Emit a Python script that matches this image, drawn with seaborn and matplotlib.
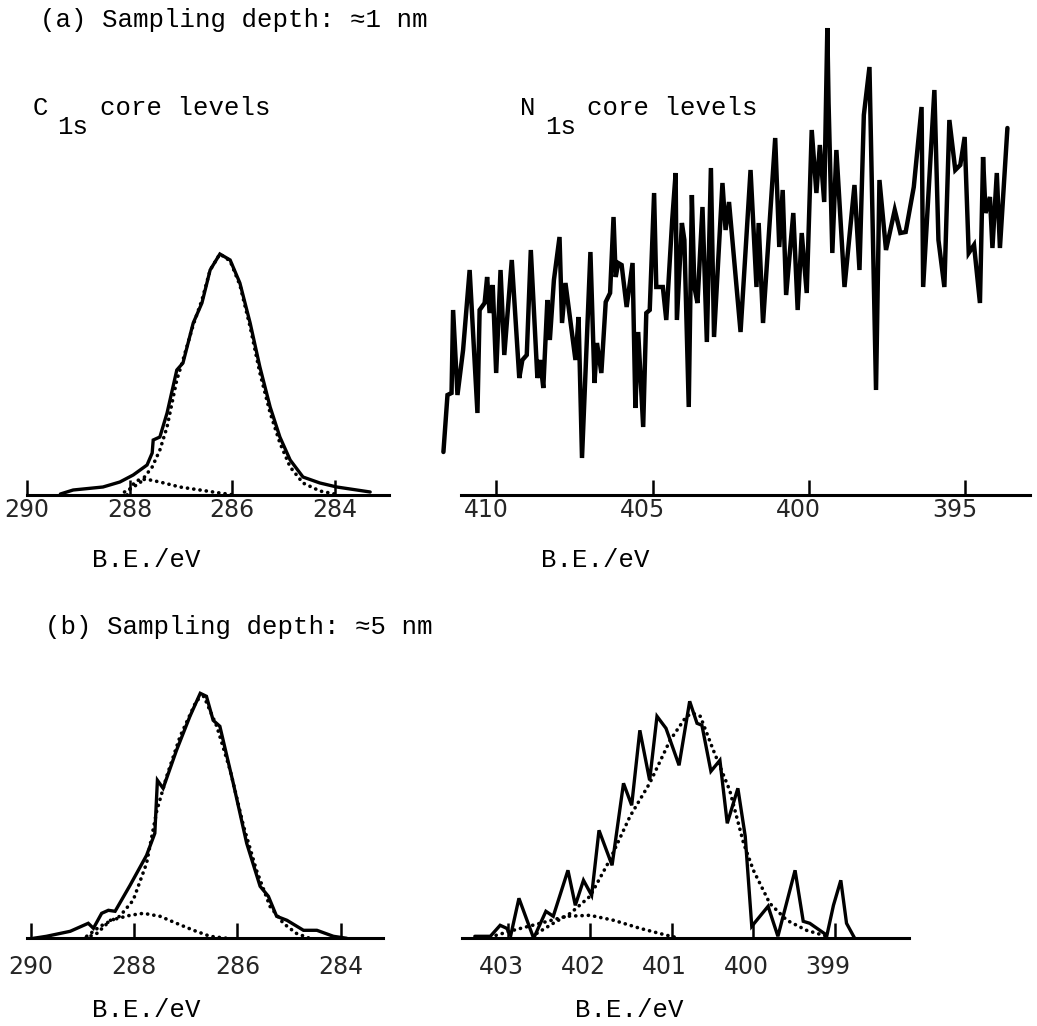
import matplotlib
matplotlib.use("Agg")
import matplotlib.pyplot as plt
import matplotlib.transforms as mtransforms
import seaborn as sns
import pandas as pd

# C1s, sampling depth ~1 nm (binding energy in eV, intensity in arbitrary counts)
c1s_a_be = [289.35, 289.10, 288.52, 288.19, 287.93, 287.66, 287.56, 287.54, 287.41, 287.27,
            287.08, 286.96, 286.76, 286.59, 286.43, 286.24, 286.04, 285.85, 285.65, 285.46,
            285.26, 285.07, 284.87, 284.62, 284.29, 283.96, 283.31]
c1s_a_int = [1, 5, 8, 13, 20, 30, 42, 55, 58, 82,
             125, 132, 172, 192, 225, 241, 235, 212, 172, 128,
             88, 58, 35, 18, 12, 8, 3]
c1s_a_fit_be = [288.10, 287.80, 287.56, 287.41, 287.27, 287.08, 286.96, 286.76, 286.59, 286.43,
                286.24, 286.04, 285.85, 285.65, 285.46, 285.26, 285.07, 284.87, 284.62, 284.29, 284.00]
c1s_a_fit_int = [3, 12, 28, 45, 68, 115, 135, 170, 195, 225,
                 241, 234, 210, 168, 122, 82, 52, 28, 12, 4, 1]
c1s_a_sub_be = [288.05, 287.95, 287.80, 287.60, 287.41, 287.02, 286.63, 286.24, 285.95]
c1s_a_sub_int = [0, 10, 16, 15, 13, 8, 5, 2, 0]

# N1s, sampling depth ~1 nm (noisy trace)
n1s_a_be = [411.70, 411.57, 411.44, 411.39, 411.25, 411.07, 410.86, 410.61, 410.54, 410.38,
            410.30, 410.22, 410.12, 410.01, 409.87, 409.75, 409.51, 409.27, 409.17, 409.03,
            408.90, 408.69, 408.60, 408.50, 408.37, 408.29, 408.16, 407.98, 407.90, 407.79,
            407.47, 407.37, 407.26, 406.99, 406.86, 406.78, 406.64, 406.50, 406.36, 406.25,
            406.18, 406.10, 405.99, 405.83, 405.64, 405.55, 405.46, 405.30, 405.20, 405.09,
            404.95, 404.88, 404.67, 404.56, 404.37, 404.26, 404.22, 404.06, 403.98, 403.84,
            403.74, 403.66, 403.56, 403.40, 403.26, 403.13, 403.03, 402.76, 402.66, 402.55,
            402.18, 401.86, 401.67, 401.60, 401.46, 401.07, 400.94, 400.83, 400.72, 400.49,
            400.35, 400.22, 400.06, 399.90, 399.75, 399.64, 399.50, 399.40, 399.36, 399.24,
            399.11, 398.85, 398.53, 398.37, 398.23, 398.05, 397.84, 397.73, 397.52, 397.24,
            397.06, 396.89, 396.63, 396.38, 396.33, 395.97, 395.84, 395.65, 395.49, 395.30,
            395.14, 395.00, 394.87, 394.70, 394.51, 394.41, 394.33, 394.19, 394.11, 393.97,
            393.87, 393.63]
n1s_a_int = [43, 100, 102, 185, 100, 145, 225, 82, 185, 192,
             218, 182, 210, 122, 225, 140, 235, 117, 135, 140,
             245, 117, 135, 107, 195, 155, 215, 258, 172, 212,
             135, 178, 37, 243, 112, 152, 122, 193, 202, 278,
             218, 232, 230, 188, 232, 87, 163, 68, 182, 185,
             302, 208, 208, 175, 275, 322, 175, 272, 255, 88,
             300, 208, 192, 288, 153, 327, 158, 312, 265, 293,
             163, 325, 208, 272, 172, 357, 248, 305, 200, 282,
             185, 262, 202, 365, 302, 350, 293, 467, 392, 242,
             345, 208, 310, 225, 380, 428, 105, 315, 245, 285,
             262, 263, 308, 388, 208, 405, 255, 208, 375, 325,
             330, 358, 242, 250, 192, 338, 282, 298, 247, 322,
             247, 367]

# C1s, sampling depth ~5 nm
c1s_b_be = [289.95, 289.70, 289.24, 288.89, 288.79, 288.63, 288.50, 288.37, 288.08, 287.76,
            287.60, 287.55, 287.44, 287.18, 286.92, 286.72, 286.60, 286.47, 286.34, 286.08,
            285.82, 285.56, 285.40, 285.24, 285.04, 284.72, 284.46, 284.14, 283.88]
c1s_b_int = [0, 2, 7, 15, 10, 25, 28, 27, 53, 83,
             105, 158, 150, 188, 222, 245, 242, 218, 212, 155,
             95, 52, 42, 22, 18, 8, 8, 2, 0]
c1s_b_fit_be = [288.92, 288.66, 288.28, 288.02, 287.76, 287.56, 287.37, 287.11, 286.79, 286.65,
                286.40, 286.14, 285.88, 285.63, 285.37, 285.11, 284.86, 284.60]
c1s_b_fit_int = [2, 12, 22, 38, 75, 128, 162, 202, 238, 242,
                 212, 168, 112, 68, 32, 15, 5, 0]
c1s_b_sub_be = [288.95, 288.72, 288.46, 288.08, 287.82, 287.50, 287.18, 286.85, 286.53, 286.20]
c1s_b_sub_int = [0, 5, 18, 23, 25, 22, 15, 8, 2, 0]

# N1s, sampling depth ~5 nm
n1s_b_be = [403.41, 403.22, 403.10, 403.02, 402.97, 402.87, 402.69, 402.54, 402.45, 402.27,
            402.18, 402.08, 401.98, 401.89, 401.73, 401.59, 401.49, 401.39, 401.27, 401.18,
            401.07, 400.91, 400.78, 400.69, 400.63, 400.52, 400.47, 400.41, 400.32, 400.19,
            400.10, 400.02, 399.82, 399.70, 399.49, 399.39, 399.31, 399.10, 399.02, 398.93,
            398.86, 398.76]
n1s_b_int = [2, 2, 13, 10, 3, 40, 0, 27, 22, 68,
             33, 58, 43, 108, 73, 155, 133, 208, 158, 222,
             210, 173, 237, 215, 213, 167, 172, 178, 115, 150,
             102, 12, 32, 2, 68, 17, 15, 3, 33, 58,
             15, 0]
n1s_b_fit_be = [402.65, 402.45, 402.24, 402.00, 401.76, 401.51, 401.27, 401.02, 400.82, 400.74,
                400.65, 400.49, 400.29, 400.12, 400.00, 399.80, 399.59, 399.35, 399.10]
n1s_b_fit_int = [5, 15, 25, 42, 78, 122, 155, 198, 222, 225,
                 222, 188, 148, 95, 68, 35, 18, 8, 2]
n1s_b_sub_be = [403.15, 402.94, 402.61, 402.29, 402.00, 401.71, 401.39, 401.06, 400.90]
n1s_b_sub_int = [3, 8, 15, 22, 23, 18, 10, 3, 0]

c1s_ticks = [290, 288, 286, 284]
n1s_a_ticks = [410, 405, 400, 395]
n1s_b_ticks = [403, 402, 401, 400, 399]

sns.set_style("white")
plt.rcParams["font.family"] = ["DejaVu Sans"]
MONO = ["Liberation Mono", "DejaVu Sans Mono"]

W, H = 1037, 1026
fig = plt.figure(figsize=(W / 100, H / 100), dpi=100)


def add_panel(x0, x1, ybase, ytop):
    # pixel box -> figure fractions
    return fig.add_axes([x0 / W, 1 - ybase / H, (x1 - x0) / W, (ybase - ytop) / H])


def draw(ax, be, inten, dotted=False, lw=2.4):
    df = pd.DataFrame({"be": be, "int": inten})
    if dotted:
        sns.lineplot(data=df, x="be", y="int", ax=ax, sort=False, estimator=None,
                     color="black", lw=2.6, linestyle=(0, (0.05, 1.7)),
                     dash_capstyle="round")
    else:
        sns.lineplot(data=df, x="be", y="int", ax=ax, sort=False, estimator=None,
                     color="black", lw=lw, solid_joinstyle="miter")


def style(ax, xlim, ylim, ticks, bounds, pad, shift=0):
    ax.set_xlim(*xlim)
    ax.set_ylim(*ylim)
    ax.set_xticks(ticks)
    ax.set_xticklabels([str(t) for t in ticks])
    ax.set_yticks([])
    ax.set_xlabel("")
    ax.set_ylabel("")
    for s in ["top", "right", "left"]:
        ax.spines[s].set_visible(False)
    ax.spines["bottom"].set_linewidth(2.2)
    ax.spines["bottom"].set_color("black")
    ax.spines["bottom"].set_bounds(*bounds)
    ax.tick_params(axis="x", direction="in", length=11, width=1.8, color="black",
                   labelsize=17, pad=pad, bottom=True)
    ax.set_facecolor("none")
    if shift:
        # labels in the original sit a little left of their ticks
        off = mtransforms.ScaledTranslation(shift / 100, 0, fig.dpi_scale_trans)
        for lbl in ax.get_xticklabels():
            lbl.set_transform(lbl.get_transform() + off)


ax1 = add_panel(21.9, 391.2, 495, 235)
draw(ax1, c1s_a_be, c1s_a_int)
draw(ax1, c1s_a_fit_be, c1s_a_fit_int, dotted=True)
draw(ax1, c1s_a_sub_be, c1s_a_sub_int, dotted=True)
style(ax1, (290.1, 282.9), (0, 260), c1s_ticks, (290.0, 282.95), 2)

ax2 = add_panel(440.3, 1030.2, 495, 20)
draw(ax2, n1s_a_be, n1s_a_int, lw=3.2)
style(ax2, (411.8, 392.9), (0, 475), n1s_a_ticks, (411.15, 392.9), 2, shift=-10)

ax3 = add_panel(25.8, 384.5, 938.3, 678.3)
draw(ax3, c1s_b_be, c1s_b_int)
draw(ax3, c1s_b_fit_be, c1s_b_fit_int, dotted=True)
draw(ax3, c1s_b_sub_be, c1s_b_sub_int, dotted=True)
style(ax3, (290.1, 283.15), (0, 260), c1s_ticks, (290.08, 283.17), 12)

ax4 = add_panel(459.3, 912.7, 938.3, 678.3)
draw(ax4, n1s_b_be, n1s_b_int)
draw(ax4, n1s_b_fit_be, n1s_b_fit_int, dotted=True)
draw(ax4, n1s_b_sub_be, n1s_b_sub_int, dotted=True)
style(ax4, (403.6, 398.05), (0, 260), n1s_b_ticks, (403.57, 398.1), 12, shift=-7)


def label(x, y, s, size=18.5):
    fig.text(x / W, 1 - y / H, s, ha="left", va="center", fontsize=size,
             family=MONO, color="black")


label(40, 20, "(a) Sampling depth: \u22481 nm")
label(33, 108, "C")
label(57, 127, "1s")
label(100, 108, "core levels")
label(520, 108, "N")
label(545, 127, "1s")
label(587, 108, "core levels")
label(92, 560, "B.E./eV")
label(541, 560, "B.E./eV")
label(45, 627, "(b) Sampling depth: \u22485 nm")
label(92, 1010, "B.E./eV")
label(575, 1010, "B.E./eV")

fig.savefig("out.png", dpi=100, facecolor="white")
